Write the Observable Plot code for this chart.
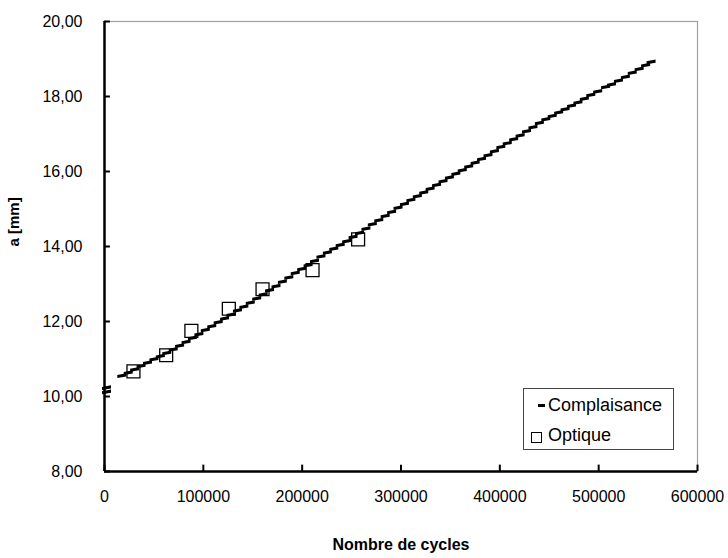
<!DOCTYPE html>
<html><head><meta charset="utf-8">
<script src="https://cdn.jsdelivr.net/npm/d3@7"></script>
<script src="https://cdn.jsdelivr.net/npm/@observablehq/plot@0.6"></script>
<style>
body{margin:0;background:#fff;font-family:"Liberation Sans",Arial,sans-serif;}
#wrap{position:relative;width:728px;height:558px;}
#legend{position:absolute;left:523px;top:388px;width:151px;height:62px;border:1px solid #444;box-sizing:border-box;background:#fff;font-size:18px;color:#000;}
#legend .t{position:absolute;left:24px;line-height:1;}
#legend .dash{position:absolute;left:14px;top:15px;width:7px;height:3px;background:#000;}
#legend .sq{position:absolute;left:7px;top:43px;width:9px;height:9px;border:1.3px solid #000;}
</style></head><body>
<div id="wrap"></div>
<script>
// Complaisance (compliance) measurements: number of cycles / crack length a [mm]
const complX = [2000, 2000,
  17500, 24000, 30500, 37000, 43500, 50000, 56500, 63000, 69500, 76000,
  82500, 89000, 95500, 102000, 108500, 115000, 121500, 128000, 134500, 141000,
  147500, 154000, 160500, 167000, 173500, 180000, 186500, 193000, 199500, 206000,
  212500, 219000, 225500, 232000, 238500, 245000, 251500, 258000, 264500, 271000,
  277500, 284000, 290500, 297000, 303500, 310000, 316500, 323000, 329500, 336000,
  342500, 349000, 355500, 362000, 368500, 375000, 381500, 388000, 394500, 401000,
  407500, 414000, 420500, 427000, 433500, 440000, 446500, 453000, 459500, 466000,
  472500, 479000, 485500, 492000, 499000, 507000, 513000, 520000, 527000, 534000,
  541000, 547500, 553000];
const complY = [10.24, 10.13,
  10.56, 10.64, 10.73, 10.82, 10.91, 11.00, 11.08, 11.17, 11.26, 11.36,
  11.46, 11.57, 11.67, 11.78, 11.88, 11.99, 12.09, 12.19, 12.30, 12.40,
  12.51, 12.62, 12.73, 12.84, 12.95, 13.07, 13.18, 13.30, 13.41, 13.51,
  13.62, 13.74, 13.85, 13.95, 14.05, 14.15, 14.26, 14.37, 14.48, 14.60,
  14.71, 14.82, 14.93, 15.04, 15.14, 15.25, 15.35, 15.45, 15.55, 15.65,
  15.75, 15.85, 15.95, 16.04, 16.14, 16.24, 16.34, 16.44, 16.55, 16.66,
  16.76, 16.87, 16.97, 17.08, 17.19, 17.30, 17.40, 17.49, 17.58, 17.67,
  17.76, 17.85, 17.95, 18.05, 18.14, 18.26, 18.33, 18.43, 18.53, 18.64,
  18.74, 18.84, 18.93];
// Optique (optical) measurements
const optX = [29300, 62400, 87900, 125800, 159900, 210500, 256600];
const optY = [10.67, 11.10, 11.75, 12.34, 12.86, 13.37, 14.19];
// Axis ticks
const xTicks = [0, 100000, 200000, 300000, 400000, 500000, 600000];
const yTicks = [8, 10, 12, 14, 16, 18, 20];
const xTitle = "Nombre de cycles";
const yTitle = "a [mm]";
const seriesNames = ["Complaisance", "Optique"];

const compl = complX.map((x, i) => ({x, y: complY[i]}));
const opt = optX.map((x, i) => ({x, y: optY[i]}));

const dash = {
  draw(ctx) {
    ctx.moveTo(-4.5, -0.4); ctx.lineTo(4.5, -2.2); ctx.lineTo(4.5, 1.0); ctx.lineTo(-4.5, 2.6); ctx.closePath();
  }
};

const chart = Plot.plot({
  width: 728, height: 558,
  marginLeft: 104, marginRight: 31, marginTop: 21, marginBottom: 87,
  style: {fontFamily: "'Liberation Sans', Arial, sans-serif", fontSize: "16px", background: "white", color: "black"},
  x: {domain: [0, 600000]},
  y: {domain: [8, 20]},
  marks: [
    Plot.frame({stroke: "#a0a0a0", strokeWidth: 1.2}),
    Plot.axisX(xTicks, {tickSize: 0, tickPadding: 19, tickFormat: d => String(d), label: null, fontSize: 16}),
    Plot.axisY(yTicks, {tickSize: 0, tickPadding: 22, tickFormat: d => d.toFixed(2).replace(".", ","), label: null, fontSize: 16}),
    Plot.ruleX(xTicks, {y1: 8, y2: 8.17, stroke: "black", strokeWidth: 2}),
    Plot.ruleY(yTicks, {x1: 0, x2: 6000, stroke: "black", strokeWidth: 2}),
    Plot.ruleY([8], {stroke: "black", strokeWidth: 2.5}),
    Plot.ruleX([0], {stroke: "black", strokeWidth: 2.5}),
    Plot.dot(opt, {x: "x", y: "y", symbol: "square", r: 7.3, stroke: "black", strokeWidth: 1.3, fill: "none"}),
    Plot.dot(compl, {x: "x", y: "y", symbol: dash, fill: "black", stroke: "none"}),
    Plot.text([xTitle], {frameAnchor: "bottom", dy: 78, fontWeight: "bold", fontSize: 16}),
    Plot.text([yTitle], {frameAnchor: "left", dx: -90, rotate: -90, fontWeight: "bold", fontSize: 15})
  ]
});

const wrap = document.getElementById("wrap");
wrap.appendChild(chart);
const leg = document.createElement("div");
leg.id = "legend";
leg.innerHTML = `<div class="dash"></div><span class="t" style="top:7px">${seriesNames[0]}</span>
<div class="sq"></div><span class="t" style="top:37px">${seriesNames[1]}</span>`;
wrap.appendChild(leg);
</script>
</body></html>
